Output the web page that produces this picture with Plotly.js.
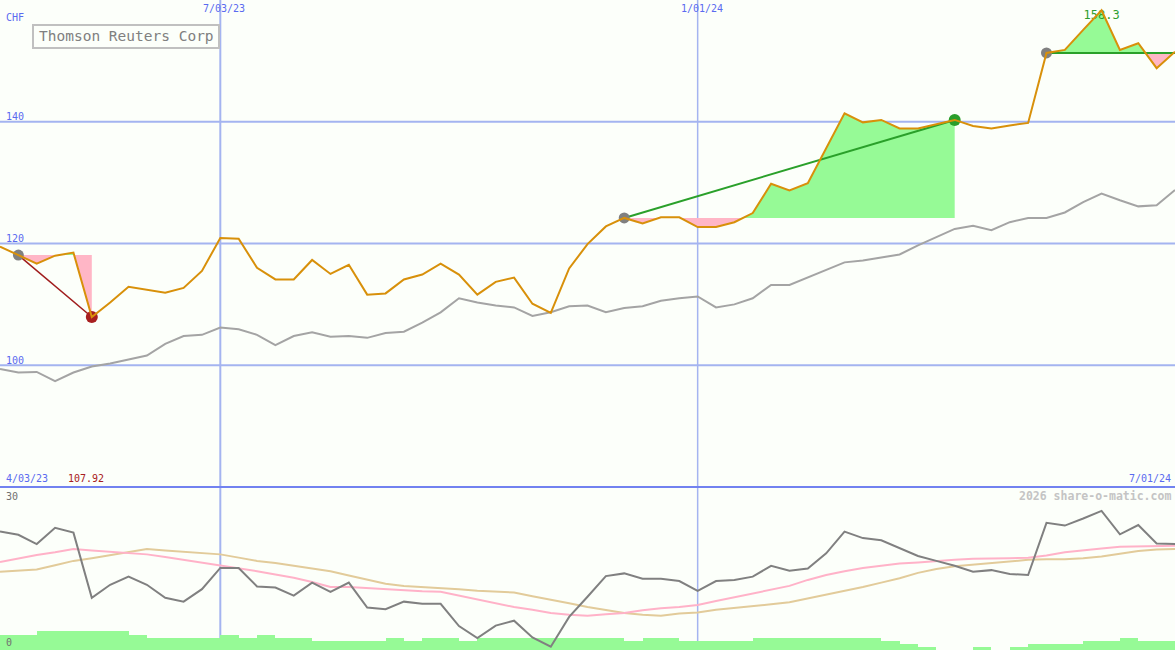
<!DOCTYPE html>
<html><head><meta charset="utf-8">
<script src="https://cdn.plot.ly/plotly-3.0.1.min.js"></script>
<style>html,body{margin:0;padding:0;background:#fcfffa;}#chart{width:1175px;height:650px;}</style>
</head><body><div id="chart"></div>
<script>
const dates = ['2023-04-10','2023-04-17','2023-04-24','2023-05-01','2023-05-08','2023-05-15','2023-05-22','2023-05-29','2023-06-05','2023-06-12','2023-06-19','2023-06-26','2023-07-03','2023-07-10','2023-07-17','2023-07-24','2023-07-31','2023-08-07','2023-08-14','2023-08-21','2023-08-28','2023-09-04','2023-09-11','2023-09-18','2023-09-25','2023-10-02','2023-10-09','2023-10-16','2023-10-23','2023-10-30','2023-11-06','2023-11-13','2023-11-20','2023-11-27','2023-12-04','2023-12-11','2023-12-18','2023-12-25','2024-01-01','2024-01-08','2024-01-15','2024-01-22','2024-01-29','2024-02-05','2024-02-12','2024-02-19','2024-02-26','2024-03-04','2024-03-11','2024-03-18','2024-03-25','2024-04-01','2024-04-08','2024-04-15','2024-04-22','2024-04-29','2024-05-06','2024-05-13','2024-05-20','2024-05-27','2024-06-03','2024-06-10','2024-06-17','2024-06-24','2024-07-01'];

const price = [119.5,118.1,116.7,118.0,118.5,107.92,110.3,112.9,112.4,111.9,
  112.7,115.5,120.9,120.8,116.0,114.1,114.1,117.3,115.0,116.5,
  111.6,111.8,114.1,114.9,116.7,114.9,111.6,113.7,114.4,110.1,
  108.6,115.9,119.9,122.8,124.2,123.3,124.3,124.3,122.7,122.7,
  123.5,125.0,129.8,128.7,129.9,135.6,141.4,139.9,140.3,138.9,
  138.9,139.6,140.3,139.3,138.9,139.4,139.8,151.3,151.8,155.1,
  158.3,151.8,152.9,148.8,151.5];

const benchmark = [99.4,98.8,98.9,97.4,98.8,99.8,100.3,100.9,101.6,103.5,
  104.8,105.0,106.2,105.9,105.0,103.3,104.8,105.4,104.7,104.8,
  104.5,105.3,105.5,107.0,108.7,111.0,110.3,109.8,109.5,108.1,
  108.7,109.7,109.8,108.7,109.4,109.7,110.6,111.0,111.3,109.5,
  110.0,111.0,113.2,113.2,114.4,115.6,116.9,117.2,117.7,118.2,
  119.7,121.0,122.4,122.9,122.2,123.5,124.2,124.2,125.1,126.8,
  128.2,127.1,126.1,126.3,128.8];

const oscillator = [21.8,21.2,19.5,22.5,21.6,9.6,12.0,13.5,12.0,9.6,
  8.9,11.2,15.1,15.1,11.7,11.5,10.0,12.4,10.7,12.4,
  7.8,7.5,8.9,8.5,8.5,4.4,2.2,4.5,5.4,2.3,
  0.6,6.1,9.8,13.6,14.1,13.1,13.1,12.7,10.9,12.7,
  12.9,13.5,15.5,14.6,15.0,17.8,21.8,20.6,20.2,18.7,
  17.3,16.4,15.5,14.4,14.7,14.0,13.8,23.4,22.9,24.2,
  25.6,21.3,23.0,19.6,19.5];

const oscFast = [16.2,16.9,17.5,18.0,18.6,18.3,18.1,17.8,17.6,17.1,
  16.6,16.1,15.6,15.1,14.5,13.9,13.3,12.5,11.6,11.6,
  11.4,11.1,10.9,10.8,10.7,10.0,9.4,8.6,7.9,7.4,
  6.8,6.5,6.3,6.6,6.8,7.3,7.7,7.9,8.3,9.0,
  9.7,10.5,11.2,11.8,12.9,13.8,14.5,15.1,15.5,15.9,
  16.1,16.4,16.6,16.8,16.8,16.9,17.0,17.4,18.0,18.4,
  18.7,19.0,19.1,19.1,19.2];

const oscSlow = [14.4,14.6,14.8,15.6,16.4,16.9,17.5,18.0,18.6,18.3,
  18.1,17.8,17.6,17.0,16.4,16.0,15.5,15.0,14.5,13.7,
  12.9,12.2,11.8,11.6,11.5,11.2,10.9,10.8,10.6,9.9,
  9.3,8.6,7.9,7.4,6.8,6.5,6.3,6.7,6.9,7.4,
  7.7,8.1,8.4,8.8,9.5,10.1,10.9,11.6,12.4,13.2,
  14.2,14.9,15.4,15.7,16.1,16.4,16.6,16.7,16.7,16.9,
  17.2,17.7,18.2,18.5,18.6];

const volume = [9.2,9.2,11.7,11.7,11.7,11.7,11.7,9.2,7.5,7.5,
  7.5,7.5,9.2,7.5,9.2,7.5,7.5,5.5,5.5,5.5,
  5.5,7.5,5.5,7.5,7.5,5.5,7.5,7.5,7.5,7.5,
  7.5,7.5,7.5,7.5,5.5,7.5,7.5,5.5,5.5,5.5,
  5.5,7.5,7.5,7.5,7.5,7.5,7.5,7.5,5.5,3.7,
  1.8,0,0,1.8,0,1.8,3.7,3.7,3.7,5.5,
  5.5,7.5,5.5,5.5];

const sigStart = ['2023-04-17','2023-12-04','2024-05-13'];
const sigEnd   = ['2023-05-15','2024-04-08','2024-07-01'];
const sigOpen  = [false,false,true];

const yTickVals = [100,120,140];
const xTickDates = ['2023-07-03','2024-01-01'];
const xTickText = ['7/03/23','1/01/24'];
const rangeText = ['4/03/23','7/01/24'];
const title = 'Thomson Reuters Corp';
const currency = 'CHF';
const oscTicks = ['30','0'];
const credit = '2026 share-o-matic.com';

const FONT = "'DejaVu Sans Mono', monospace";
const BLUE = '#5a6af0';
const GRID = '#a4b4f0';
const GREENFILL = '#96fa96';
const PINKFILL = '#ffb6c6';
const ORANGE = '#d8900a';
const DAY = 86400000;
const ms = dates.map(d => Date.parse(d));
const none = {width:0, color:'rgba(0,0,0,0)'};

const traces = [];
// lower panel: volume bars (y2), oscillator lines (y3)
traces.push({x:dates.slice(0, volume.length), y:volume, type:'bar', xaxis:'x2', yaxis:'y2',
  width:7*DAY, offset:0, marker:{color:'#96fa96', line:{width:0}}, hoverinfo:'skip'});
traces.push({x:dates, y:oscSlow, mode:'lines', xaxis:'x2', yaxis:'y3', line:{color:'#e2cb9a', width:2}, hoverinfo:'skip'});
traces.push({x:dates, y:oscFast, mode:'lines', xaxis:'x2', yaxis:'y3', line:{color:'#ffb2c8', width:2}, hoverinfo:'skip'});
traces.push({x:dates, y:oscillator, mode:'lines', xaxis:'x2', yaxis:'y3', line:{color:'#808080', width:2}, hoverinfo:'skip'});

// main panel
traces.push({x:dates, y:benchmark, mode:'lines', xaxis:'x', yaxis:'y', line:{color:'#a4a4a4', width:2}, hoverinfo:'skip'});

const markerTraces = [];
sigStart.forEach((sd, k) => {
  const s = dates.indexOf(sd), e = dates.indexOf(sigEnd[k]);
  const level = price[s];
  const xs = [], ys = [];
  for (let i = s; i <= e; i++) {
    if (i > s) {
      const a = price[i-1], b = price[i];
      if ((a - level) * (b - level) < 0) {
        const f = (level - a) / (b - a);
        xs.push(ms[i-1] + f * (ms[i] - ms[i-1])); ys.push(level);
      }
    }
    xs.push(ms[i]); ys.push(price[i]);
  }
  const base = xs.map(() => level);
  traces.push({x:xs, y:base, mode:'lines', line:none, xaxis:'x', yaxis:'y', hoverinfo:'skip'});
  traces.push({x:xs, y:ys.map(v => Math.max(v, level)), mode:'lines', line:none, fill:'tonexty', fillcolor:GREENFILL, xaxis:'x', yaxis:'y', hoverinfo:'skip'});
  traces.push({x:xs, y:base, mode:'lines', line:none, xaxis:'x', yaxis:'y', hoverinfo:'skip'});
  traces.push({x:xs, y:ys.map(v => Math.min(v, level)), mode:'lines', line:none, fill:'tonexty', fillcolor:PINKFILL, xaxis:'x', yaxis:'y', hoverinfo:'skip'});
  const endVal = sigOpen[k] ? level : price[e];
  const up = endVal >= level;
  markerTraces.push({x:[dates[s], dates[e]], y:[level, endVal], mode:'lines', xaxis:'x', yaxis:'y',
    line:{color: sigOpen[k] ? '#2aa02a' : (up ? '#2aa02a' : '#a01c1c'), width: up ? 2 : 1.5}, hoverinfo:'skip'});
  markerTraces.push({x:[dates[s]], y:[level], mode:'markers', xaxis:'x', yaxis:'y',
    marker:{color:'#808080', size:11}, hoverinfo:'skip'});
  if (!sigOpen[k]) {
    markerTraces.push({x:[dates[e]], y:[price[e]], mode:'markers', xaxis:'x', yaxis:'y',
      marker:{color: up ? '#2a9e2a' : '#a82020', size:12}, hoverinfo:'skip'});
  }
});
markerTraces.forEach(t => traces.push(t));

const pMax = Math.max(...price), iMax = price.indexOf(pMax);
const pMin = Math.min(...price);
traces.push({x:[dates[iMax]], y:[pMax], mode:'text', text:[pMax.toFixed(1)], textposition:'bottom center',
  textfont:{family:FONT, size:12, color:'#2e9e2e'}, xaxis:'x', yaxis:'y', hoverinfo:'skip', cliponaxis:false});
traces.push({x:dates, y:price, mode:'lines', xaxis:'x', yaxis:'y', line:{color:ORANGE, width:2}, hoverinfo:'skip'});

const split = 163/650;
const shapes = [];
yTickVals.forEach(v => shapes.push({type:'line', xref:'paper', yref:'y', x0:0, x1:1, y0:v, y1:v, line:{color:GRID, width:2}, layer:'below'}));
xTickDates.forEach((d, i) => shapes.push({type:'line', xref:'x', yref:'paper', x0:d, x1:d, y0:0, y1:1, line:{color:GRID, width: i === 0 ? 2 : 1.5}, layer:'below'}));
shapes.push({type:'line', xref:'paper', yref:'paper', x0:0, x1:1, y0:split, y1:split, line:{color:'#7282f0', width:2}, layer:'above'});
shapes.push({type:'rect', xref:'paper', yref:'paper', x0:33/1175, x1:219/1175, y0:1-48/650, y1:1-25/650, line:{color:'#c0c0c0', width:2}, layer:'above'});

const ann = [];
const txt = (text, x, y, opts) => Object.assign({text, x, y, xref:'paper', yref:'paper', showarrow:false, xanchor:'left', yanchor:'middle', font:{family:FONT, size:10, color:BLUE}}, opts || {});
ann.push(txt(currency, 4/1175, 1-18/650));
yTickVals.forEach(v => ann.push(txt(String(v), 4/1175, v, {yref:'y', yshift:5})));
xTickDates.forEach((d, i) => ann.push(txt(xTickText[i], d, 1-9/650, {xref:'x', xanchor:'center', xshift:4})));
ann.push(txt(rangeText[0], 4/1175, 1-478.5/650));
ann.push(txt(pMin.toFixed(2), 66/1175, 1-478.5/650, {font:{family:FONT, size:10, color:'#a82020'}}));
ann.push(txt(rangeText[1], 1173/1175, 1-478.5/650, {xanchor:'right'}));
ann.push(txt(oscTicks[0], 4/1175, 1-496/650, {font:{family:FONT, size:10, color:'#707070'}}));
ann.push(txt(oscTicks[1], 4/1175, 1-642/650, {font:{family:FONT, size:10, color:'#707070'}}));
ann.push(txt('<b>' + credit + '</b>', 1173/1175, 1-496/650, {xanchor:'right', font:{family:FONT, size:11.5, color:'#c4c4c4'}}));
ann.push(txt(title, 37/1175, 1-36.5/650, {font:{family:FONT, size:14.5, color:'#808080'}}));

const xr = [dates[0], dates[dates.length-1]];
const ax = {showgrid:false, zeroline:false, showline:false, showticklabels:false, ticks:''};
const layout = {
  width:1175, height:650, margin:{l:0, r:0, t:0, b:0},
  paper_bgcolor:'#fcfffa', plot_bgcolor:'rgba(0,0,0,0)',
  showlegend:false, hovermode:false, bargap:0,
  xaxis:Object.assign({type:'date', range:xr, domain:[0,1], anchor:'y'}, ax),
  yaxis:Object.assign({range:[80,160], domain:[split,1], anchor:'x'}, ax),
  xaxis2:Object.assign({type:'date', range:xr, domain:[0,1], anchor:'y2'}, ax),
  yaxis2:Object.assign({range:[0,100], domain:[0,split], anchor:'x2'}, ax),
  yaxis3:Object.assign({range:[0,30], overlaying:'y2', anchor:'x2'}, ax),
  shapes, annotations:ann
};
Plotly.newPlot('chart', traces, layout, {staticPlot:true, displayModeBar:false});
</script></body></html>
